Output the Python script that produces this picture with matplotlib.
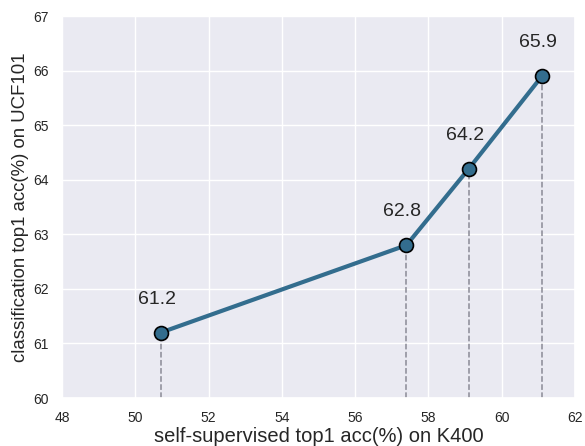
import matplotlib
matplotlib.use("Agg")
import matplotlib.pyplot as plt
import seaborn as sns

ssl_acc = [50.7, 57.4, 59.1, 61.1]
ucf_acc = [61.2, 62.8, 64.2, 65.9]
labels = ["61.2", "62.8", "64.2", "65.9"]
xticks = [48, 50, 52, 54, 56, 58, 60, 62]
yticks = [60, 61, 62, 63, 64, 65, 66, 67]

sns.set_theme(style="darkgrid")
plt.rcParams['font.family'] = ['Liberation Sans', 'DejaVu Sans']

fig = plt.figure(figsize=(5.85, 4.46), dpi=100)
ax = fig.add_axes([62/585, 1-398/446, 513/585, 382/446])

color = "#336d8e"
for x, y in zip(ssl_acc, ucf_acc):
    ax.plot([x, x], [60, y], linestyle="--", color="#8a8a96", linewidth=1.1, zorder=2)
ax.plot(ssl_acc, ucf_acc, color=color, linewidth=3, marker="o", markersize=10,
        markerfacecolor=color, markeredgecolor="black", markeredgewidth=1.2, zorder=3)
for x, y, t in zip(ssl_acc, ucf_acc, labels):
    ax.annotate(t, (x, y), xytext=(-3, 24), textcoords="offset points",
                ha="center", va="center", fontsize=14, color="#262626")

ax.set_xlim(48, 62)
ax.set_ylim(60, 67)
ax.set_xticks(xticks)
ax.set_yticks(yticks)
ax.tick_params(labelsize=10, colors="#262626")
ax.set_xlabel("self-supervised top1 acc(%) on K400", fontsize=14.5, color="#262626", labelpad=1)
ax.set_ylabel("classification top1 acc(%) on UCF101", fontsize=13.4, color="#262626", labelpad=3)

fig.savefig("out.png", dpi=100)
